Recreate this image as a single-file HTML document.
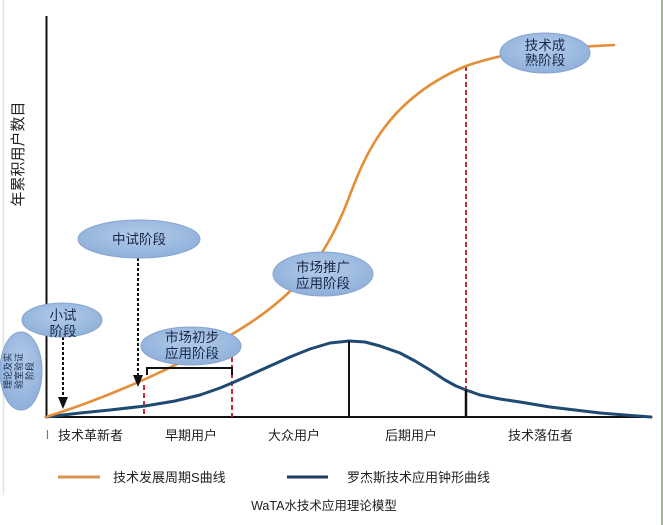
<!DOCTYPE html>
<html><head><meta charset="utf-8"><style>
html,body{margin:0;padding:0;background:#fff;}
svg{display:block;}
text{font-family:"Liberation Sans","Noto Sans CJK SC",sans-serif;}
</style></head><body>
<svg width="663" height="525" viewBox="0 0 663 525" xmlns="http://www.w3.org/2000/svg">
<defs>
<radialGradient id="g" cx="50%" cy="40%" r="60%">
<stop offset="0" stop-color="#b3cbea"/>
<stop offset="1" stop-color="#8fb0da"/>
</radialGradient>
</defs>
<rect width="663" height="525" fill="#fff"/>
<line x1="3.5" y1="0" x2="3.5" y2="495" stroke="#e4e4e4" stroke-width="1.5"/>
<line x1="662" y1="0" x2="662" y2="525" stroke="#8d9a78" stroke-width="1.5"/>

<!-- axes -->
<line x1="46.5" y1="16" x2="46.5" y2="418" stroke="#111" stroke-width="2"/>
<line x1="46" y1="417" x2="652" y2="417" stroke="#111" stroke-width="2"/>
<text transform="translate(23,154) rotate(-90)" font-size="15" text-anchor="middle" fill="#222">年累积用户数目</text>

<!-- red dashed lines -->
<g stroke="#c42b3c" stroke-width="2" stroke-dasharray="5,3">
<line x1="144" y1="385" x2="144" y2="417"/>
<line x1="232" y1="357" x2="232" y2="417"/>
<line x1="466" y1="66" x2="466" y2="417"/>
</g>

<!-- bell curve -->
<polyline fill="none" stroke="#1f4a72" stroke-width="3" stroke-linejoin="round" stroke-linecap="round"
points="46,417 80,413 110,410 145,406 175,401 200,395 220,388 232,383 250,375 270,366 290,357 310,349 330,343 349,341 365,342 380,346 400,353 415,361 430,370 445,380 456,386 466,390 480,395 500,399 520,402 550,407 575,410 600,413 625,415 651,417"/>
<line x1="349" y1="341" x2="349" y2="417" stroke="#111" stroke-width="2"/>
<line x1="466" y1="390" x2="466" y2="417" stroke="#111" stroke-width="2.5"/>

<!-- S curve -->
<path fill="none" stroke="#e48f38" stroke-width="2.6" stroke-linecap="round"
d="M46,417 C110,397 190,362 250,323 C295,293 325,260 348,200 C364,158 385,100 466,66 C510,50 560,48 614,45"/>

<!-- bracket -->
<path d="M147,375 V368 H232 V375" fill="none" stroke="#111" stroke-width="2"/>

<!-- arrows -->
<g stroke="#111" stroke-width="2" stroke-dasharray="3,2">
<line x1="63" y1="337" x2="63" y2="399"/>
<line x1="138" y1="258" x2="138" y2="377"/>
</g>
<polygon points="58,397 68,397 63,409" fill="#111"/>
<polygon points="133,375 143,375 138,387" fill="#111"/>

<!-- ellipses -->
<g fill="url(#g)" stroke="#86a5cf" stroke-width="1">
<ellipse cx="139" cy="239" rx="61" ry="19"/>
<ellipse cx="62" cy="320" rx="40" ry="17"/>
<ellipse cx="21" cy="371" rx="21" ry="39"/>
<ellipse cx="191" cy="346" rx="50" ry="19"/>
<ellipse cx="323" cy="274" rx="50" ry="22"/>
<ellipse cx="545" cy="53" rx="45" ry="20"/>
</g>
<g fill="#1a2848" font-size="13.5" text-anchor="middle">
<text x="139" y="244">中试阶段</text>
<text x="63" y="320">小试</text>
<text x="63" y="336">阶段</text>
<text x="192" y="342">市场初步</text>
<text x="192" y="358">应用阶段</text>
<text x="323" y="272">市场推广</text>
<text x="323" y="288">应用阶段</text>
<text x="545" y="50">技术成</text>
<text x="545" y="65">熟阶段</text>
</g>
<g fill="#1a2848" font-size="9" text-anchor="middle">
<text transform="translate(11,371) rotate(-90)">理论及实</text>
<text transform="translate(22,371) rotate(-90)">验室验证</text>
<text transform="translate(33,371) rotate(-90)">阶段</text>
</g>

<!-- x labels -->
<line x1="47.5" y1="430" x2="47.5" y2="439" stroke="#777" stroke-width="1.2"/>
<g fill="#222" font-size="13">
<text x="58" y="440">技术革新者</text>
<text x="165" y="440">早期用户</text>
<text x="268" y="440">大众用户</text>
<text x="385" y="440">后期用户</text>
<text x="508" y="440">技术落伍者</text>
</g>

<!-- legend -->
<line x1="58" y1="477" x2="100" y2="477" stroke="#d6964d" stroke-width="3"/>
<text x="113" y="482" font-size="13" fill="#222">技术发展周期S曲线</text>
<line x1="287" y1="477" x2="328" y2="477" stroke="#1f3a5f" stroke-width="3"/>
<text x="347" y="482" font-size="13" fill="#222">罗杰斯技术应用钟形曲线</text>

<text x="324" y="510" font-size="12.5" fill="#222" text-anchor="middle">WaTA水技术应用理论模型</text>
</svg>
</body></html>
